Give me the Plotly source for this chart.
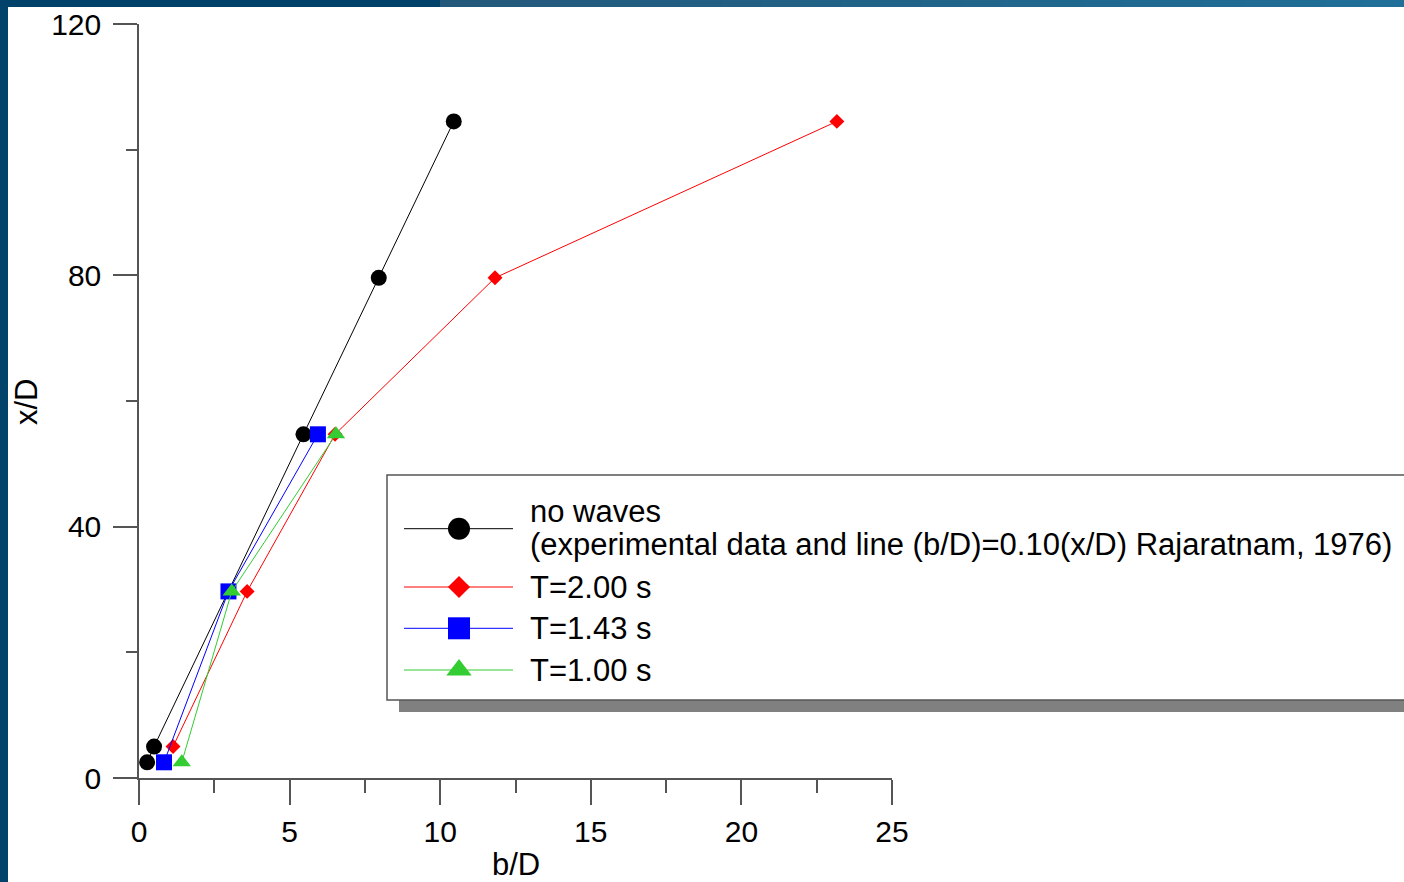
import plotly.graph_objects as go

# ---------------- data ----------------
no_waves_b = [0.27, 0.50, 5.46, 7.96, 10.45]
no_waves_x = [2.5, 5.0, 54.7, 79.6, 104.5]

t200_b = [1.13, 3.59, 6.51, 11.82, 23.17]
t200_x = [5.0, 29.7, 54.7, 79.6, 104.5]

t143_b = [0.83, 2.97, 5.94]
t143_x = [2.5, 29.7, 54.7]

t100_b = [1.42, 3.08, 6.54]
t100_x = [2.5, 29.7, 54.7]

series_names = ["no waves", "T=2.00 s", "T=1.43 s", "T=1.00 s"]
legend_note = "(experimental data and line (b/D)=0.10(x/D) Rajaratnam, 1976)"
x_ticks = [0, 5, 10, 15, 20, 25]
y_ticks = [0, 40, 80, 120]

# ---------------- layout geometry (pixels) ----------------
WIDTH, HEIGHT = 1404, 882
L, T, W, H = 139, 24, 753, 754
B = HEIGHT - T - H
R = WIDTH - L - W
FONT = "Liberation Sans, Arial, sans-serif"
FS_TEXT = 31
FS_TICK = 30


def px(x):
    return (x - L) / W


def py(y):
    return (T + H - y) / H


BLACK, RED, BLUE, GREEN = "#000000", "#ff0000", "#0000ff", "#33cc33"

fig = go.Figure()

# (b values, x values, colour, symbol, plot marker size, legend marker size)
styles = [
    (no_waves_b, no_waves_x, BLACK, "circle", 16, 22),
    (t200_b, t200_x, RED, "diamond", 11.5, 17),
    (t143_b, t143_x, BLUE, "square", 16, 22),
    (t100_b, t100_x, GREEN, "triangle-up", 16, 22),
]
for (bx, xy, col, sym, msz, _), name in zip(styles, series_names):
    fig.add_trace(go.Scatter(
        x=bx, y=xy, mode="lines+markers", name=name,
        line=dict(color=col, width=1),
        marker=dict(color=col, symbol=sym, size=msz, line=dict(width=0)),
        showlegend=False, cliponaxis=False,
    ))

# ---------------- custom legend (pixel overlay axis) ----------------
rows = [528.7, 587, 628.3, 670]
for (bx, xy, col, sym, _, lsz), ry in zip(styles, rows):
    fig.add_trace(go.Scatter(
        x=[404, 513], y=[ry, ry], mode="lines", xaxis="x2", yaxis="y2",
        line=dict(color=col, width=1), showlegend=False, hoverinfo="skip",
        cliponaxis=False,
    ))
    fig.add_trace(go.Scatter(
        x=[459], y=[ry], mode="markers", xaxis="x2", yaxis="y2",
        marker=dict(color=col, symbol=sym, size=lsz, line=dict(width=0)),
        showlegend=False, hoverinfo="skip", cliponaxis=False,
    ))

shapes = []
# frame bands
shapes.append(dict(type="rect", xref="paper", yref="paper",
                   x0=px(0), x1=px(8), y0=py(HEIGHT), y1=py(0),
                   fillcolor="#01436a", line=dict(width=0), layer="below"))
shapes.append(dict(type="rect", xref="paper", yref="paper",
                   x0=px(0), x1=px(440), y0=py(7), y1=py(0),
                   fillcolor="#00426a", line=dict(width=0), layer="below"))
c0 = (0x23, 0x58, 0x7a)
c1 = (0x1f, 0x6f, 0x98)
n = 24
for i in range(n):
    a = 440 + (WIDTH - 440) * i / n
    b = 440 + (WIDTH - 440) * (i + 1) / n + 1
    f = i / (n - 1)
    c = tuple(round(c0[k] + (c1[k] - c0[k]) * f) for k in range(3))
    shapes.append(dict(type="rect", xref="paper", yref="paper",
                       x0=px(a), x1=px(b), y0=py(7), y1=py(0),
                       fillcolor="rgb(%d,%d,%d)" % c, line=dict(width=0), layer="below"))
# legend shadow + box
shapes.append(dict(type="rect", xref="paper", yref="paper",
                   x0=px(399), x1=px(1420), y0=py(712), y1=py(487),
                   fillcolor="#808080", line=dict(width=0), layer="below"))
shapes.append(dict(type="rect", xref="paper", yref="paper",
                   x0=px(387), x1=px(1410), y0=py(700), y1=py(475),
                   fillcolor="#ffffff", line=dict(color="#555555", width=1.5), layer="below"))

annotations = []
text_rows = [(series_names[0], 511), (legend_note, 544),
             (series_names[1], 587.5), (series_names[2], 628.5), (series_names[3], 670)]
for txt, ry in text_rows:
    annotations.append(dict(text=txt, xref="paper", yref="paper", x=px(528), y=py(ry),
                            xanchor="left", yanchor="middle", showarrow=False,
                            font=dict(family=FONT, size=FS_TEXT, color="#000000")))
# axis titles
annotations.append(dict(text="b/D", xref="paper", yref="paper", x=px(515.5), y=py(884),
                        xanchor="center", yanchor="bottom", showarrow=False,
                        font=dict(family=FONT, size=FS_TEXT, color="#000000")))
annotations.append(dict(text="x/D", xref="paper", yref="paper", x=px(26), y=py(402),
                        xanchor="center", yanchor="middle", showarrow=False, textangle=-90,
                        font=dict(family=FONT, size=FS_TEXT, color="#000000")))

axis_common = dict(showgrid=False, zeroline=False, showline=True, linecolor="#555555",
                   linewidth=1.5, ticks="outside", tickcolor="#555555", tickwidth=1.5,
                   tickfont=dict(family=FONT, size=FS_TICK, color="#000000"))

fig.update_layout(
    width=WIDTH, height=HEIGHT,
    margin=dict(l=L, r=R, t=T, b=B, autoexpand=False),
    paper_bgcolor="#ffffff", plot_bgcolor="#ffffff",
    showlegend=False,
    xaxis=dict(range=[0, 25], tickvals=x_ticks, ticklen=25, ticklabelstandoff=1,
               minor=dict(dtick=2.5, ticklen=13, ticks="outside", tickcolor="#555555", tickwidth=1.5),
               **axis_common),
    yaxis=dict(range=[0, 120], tickvals=y_ticks, ticklen=24, ticklabelstandoff=6,
               minor=dict(dtick=20, ticklen=11, ticks="outside", tickcolor="#555555", tickwidth=1.5),
               **axis_common),
    xaxis2=dict(overlaying="x", range=[L, L + W], visible=False, fixedrange=True),
    yaxis2=dict(overlaying="y", range=[T + H, T], visible=False, fixedrange=True),
    shapes=shapes,
    annotations=annotations,
)

fig.write_html("out.html")
